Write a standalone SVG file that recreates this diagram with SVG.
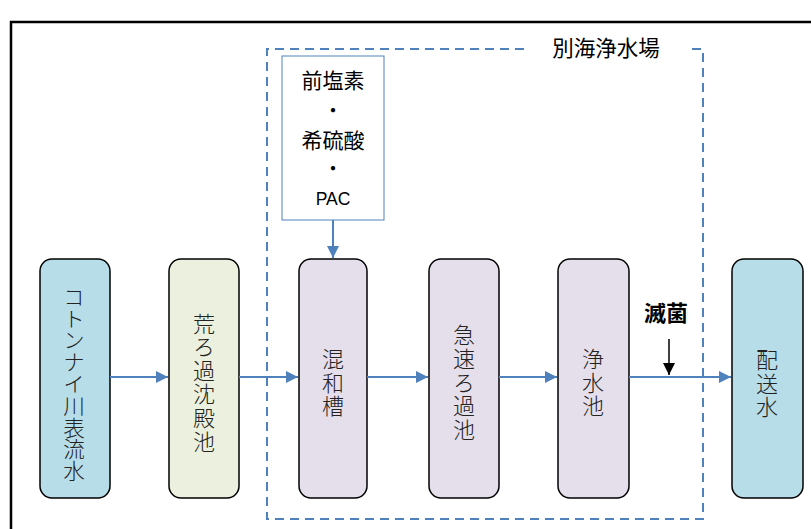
<svg xmlns="http://www.w3.org/2000/svg" width="811" height="529" viewBox="0 0 811 529">
<style>
.node{stroke:#000;stroke-width:1.5}
.blue{fill:#B7DDE8}
.green{fill:#EBF1DE}
.lav{fill:#E5DFEC}
.vt{font-family:"Noto Sans CJK JP","Noto Sans CJK SC",sans-serif;font-size:22px;font-weight:300;fill:#222;text-anchor:middle;writing-mode:vertical-rl;letter-spacing:1.6px}
.lbl{font-family:"Noto Sans CJK JP","Noto Sans CJK SC",sans-serif;fill:#000;text-anchor:middle}
.flow{stroke:#4F81BD;stroke-width:2;fill:none}
</style>
<defs>
<marker id="ab" viewBox="0 0 12 12" refX="12" refY="6" markerWidth="12" markerHeight="12" markerUnits="userSpaceOnUse" orient="auto">
<path d="M0,0 L12,6 L0,12 Z" fill="#4F81BD"/>
</marker>
<marker id="ak" viewBox="0 0 12 12" refX="12" refY="6" markerWidth="12" markerHeight="13" markerUnits="userSpaceOnUse" orient="auto">
<path d="M0,0 L12,6 L0,12 Z" fill="#000"/>
</marker>
</defs>
<rect width="811" height="529" fill="#fff"/>
<rect x="11" y="22" width="830" height="540" fill="none" stroke="#000" stroke-width="2.5"/>
<g id="plant">
<path d="M524,49 H267 V519 H703 V49 H689" fill="none" stroke="#4F81BD" stroke-width="2" stroke-dasharray="9,6"/>
<text class="lbl" x="606" y="56" font-size="21.5">別海浄水場</text>
</g>
<g id="chem">
<rect x="282" y="56" width="102" height="164" fill="#fff" stroke="#4F81BD" stroke-width="1"/>
<text class="lbl" x="333" y="88" font-size="21">前塩素</text>
<text class="lbl" x="333" y="118" font-size="20">・</text>
<text class="lbl" x="333" y="148" font-size="21">希硫酸</text>
<text class="lbl" x="333" y="176" font-size="20">・</text>
<text x="333" y="205" font-family="'Liberation Sans','Noto Sans',sans-serif" font-size="17.5" text-anchor="middle">PAC</text>
</g>
<g id="n1">
<rect class="node blue" x="40" y="259" width="70" height="239" rx="12"/>
<text class="vt" x="74" y="384" style="letter-spacing:0.3px;font-size:21.5px">コトンナイ川表流水</text>
</g>
<g id="n2">
<rect class="node green" x="169" y="259" width="70" height="239" rx="12"/>
<text class="vt" x="204" y="383">荒ろ過沈殿池</text>
</g>
<g id="n3">
<rect class="node lav" x="299" y="259" width="68" height="239" rx="12"/>
<text class="vt" x="333" y="383">混和槽</text>
</g>
<g id="n4">
<rect class="node lav" x="429" y="259" width="70" height="239" rx="12"/>
<text class="vt" x="464" y="383">急速ろ過池</text>
</g>
<g id="n5">
<rect class="node lav" x="558" y="259" width="71" height="239" rx="12"/>
<text class="vt" x="593" y="383">浄水池</text>
</g>
<g id="n6">
<rect class="node blue" x="732" y="259" width="71" height="239" rx="12"/>
<text class="vt" x="767" y="384">配送水</text>
</g>
<g id="disinfect">
<text class="lbl" x="666" y="321" font-size="22" font-weight="bold">滅菌</text>
</g>
<g id="connectors">
<line class="flow" x1="110" y1="377" x2="168" y2="377" marker-end="url(#ab)"/>
<line class="flow" x1="239" y1="377" x2="298" y2="377" marker-end="url(#ab)"/>
<line class="flow" x1="367" y1="377" x2="428" y2="377" marker-end="url(#ab)"/>
<line class="flow" x1="499" y1="377" x2="557" y2="377" marker-end="url(#ab)"/>
<line class="flow" x1="629" y1="377" x2="731" y2="377" marker-end="url(#ab)"/>
<line class="flow" x1="333" y1="220" x2="333" y2="258" stroke-width="1.5" marker-end="url(#ab)"/>
<line x1="669" y1="339" x2="669" y2="375" stroke="#000" stroke-width="1.5" marker-end="url(#ak)"/>
</g>
</svg>
